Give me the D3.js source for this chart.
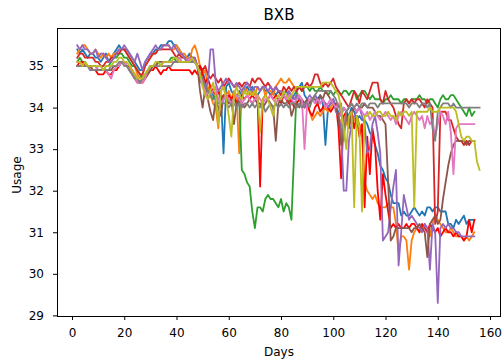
<!DOCTYPE html>
<html>
<head>
<meta charset="utf-8">
<script src="https://cdn.jsdelivr.net/npm/d3@7"></script>
<style>
  html, body { margin: 0; padding: 0; background: #fff; }
  svg { display: block; font-family: "DejaVu Sans", sans-serif; }
</style>
</head>
<body>
<svg id="chart" width="502" height="363"></svg>
<script>
// --- Data (one value per day, first day = 2) ---
const startDay = 2;
const xTicks = [0, 20, 40, 60, 80, 100, 120, 140, 160];
const yTicks = [29, 30, 31, 32, 33, 34, 35];

const blue = [
  35.4, 35.3, 35.4, 35.3, 35.2, 35.3, 35.3, 35.2, 35.2, 35.1,
  35.2, 35.3, 35.1, 35.2, 35.3, 35.4, 35.5, 35.4, 35.4, 35.4,
  35.3, 35.2, 35.1, 35.0, 34.9, 34.9, 35.1, 35.2, 35.3, 35.3,
  35.4, 35.4, 35.5, 35.5, 35.5, 35.6, 35.6, 35.5, 35.5, 35.4,
  35.3, 35.2, 35.2, 35.3, 35.2, 35.1, 35.0, 34.7, 34.9, 34.6,
  34.4, 34.5, 34.3, 34.2, 34.4, 34.3, 32.9, 34.5, 34.6, 34.4,
  34.3, 34.2, 34.4, 34.3, 34.4, 34.5, 34.4, 34.5, 34.4, 34.3,
  34.4, 34.5, 34.4, 34.4, 34.3, 34.4, 34.3, 34.4, 34.3, 34.3,
  34.4, 34.3, 34.2, 34.3, 34.4, 34.5, 34.6, 34.3, 34.2, 34.1,
  34.2, 34.3, 34.2, 34.3, 34.1, 33.1, 34.0, 34.1, 34.2, 34.0,
  33.9, 33.8, 34.0, 33.9, 33.8, 34.0, 33.9, 33.7, 33.8, 33.7,
  33.7, 33.6, 33.4, 33.3, 33.1, 32.9, 32.6, 32.5, 32.3, 32.2,
  31.9, 31.7, 31.7, 31.7, 31.4, 31.5, 31.4, 31.4, 31.5, 31.6,
  31.5, 31.4, 31.5, 31.4, 31.6, 31.6, 31.5, 31.6, 31.6, 31.5,
  31.5, 31.5, 31.2, 31.2, 31.1, 31.3, 31.2, 31.3, 31.4, 31.2,
  31.3, 31.3, 31.3
];

const orange = [
  35.3, 35.4, 35.5, 35.5, 35.4, 35.3, 35.3, 35.4, 35.3, 35.2,
  35.3, 35.2, 35.3, 35.2, 35.3, 35.3, 35.4, 35.4, 35.4, 35.3,
  35.2, 35.1, 35.0, 34.8, 34.7, 34.8, 35.0, 35.1, 35.2, 35.3,
  35.3, 35.4, 35.4, 35.5, 35.5, 35.5, 35.4, 35.4, 35.5, 35.4,
  35.3, 35.3, 35.2, 35.1, 35.4, 35.5, 35.3, 35.0, 34.8, 34.9,
  34.5, 34.3, 34.1, 34.0, 33.5, 34.4, 34.5, 34.3, 34.4, 34.2,
  34.4, 34.3, 32.9, 34.4, 34.5, 34.4, 34.3, 34.4, 34.3, 34.5,
  34.4, 34.5, 34.3, 34.4, 34.4, 34.3, 34.5, 34.6, 34.7, 34.6,
  34.6, 34.7, 34.6, 34.5, 34.4, 34.2, 34.1, 34.0, 34.1, 33.9,
  33.7, 33.8, 33.9, 33.8, 33.9, 34.0, 33.9, 34.0, 34.1, 34.0,
  33.8, 33.6, 33.5, 33.6, 33.7, 33.6, 33.7, 33.8, 33.6, 33.5,
  32.2, 32.0, 31.9, 31.8, 31.9, 31.7, 31.6, 31.6, 31.6, 31.7,
  31.6, 31.6, 31.2, 30.5, 30.9, 30.9, 30.8, 30.1, 30.8, 31.0,
  31.1, 31.0, 31.1, 31.2, 31.1, 30.9, 31.2, 31.4, 31.3, 31.2,
  31.1, 31.0, 31.0, 31.1, 31.0, 30.9, 30.9, 30.9, 30.8, 30.9,
  30.8, 30.9, 31.0
];

const green = [
  35.1, 35.2, 35.1, 35.1, 35.0, 35.0, 35.0, 35.0, 34.9, 34.9,
  34.9, 35.0, 35.0, 35.1, 35.2, 35.2, 35.3, 35.3, 35.2, 35.2,
  35.1, 35.0, 35.0, 34.9, 34.8, 34.7, 34.8, 34.9, 35.0, 35.0,
  35.0, 35.1, 35.0, 35.1, 35.1, 35.1, 35.2, 35.2, 35.1, 35.2,
  35.1, 35.1, 35.1, 35.2, 35.1, 35.1, 35.0, 34.8, 34.6, 34.5,
  34.4, 34.3, 34.2, 34.3, 34.2, 34.1, 34.2, 34.3, 34.2, 34.1,
  34.2, 34.1, 34.2, 32.5, 32.4, 32.2, 32.1, 31.5, 31.1, 31.6,
  31.6, 31.5, 31.8, 31.9, 31.8, 31.8, 31.7, 31.6, 31.8, 31.5,
  31.7, 31.6, 31.3, 32.9, 34.5, 34.5, 34.4, 34.5, 34.5, 34.4,
  34.5, 34.4, 34.4, 34.5, 34.4, 34.4, 34.3, 34.4, 34.3, 34.4,
  34.4, 34.3, 34.4, 34.4, 34.3, 34.4, 34.4, 34.2, 34.3, 34.4,
  34.4, 34.3, 34.2, 34.3, 34.2, 34.2, 34.2, 34.1, 34.2, 34.2,
  34.3, 34.2, 34.2, 34.2, 34.1, 34.2, 34.2, 34.1, 34.2, 34.2,
  34.2, 34.3, 34.2, 34.2, 34.1, 34.2, 34.2, 34.1, 34.0, 34.2,
  34.3, 34.2, 34.2, 34.3, 34.3, 34.2, 34.1, 34.0, 33.9, 33.8,
  34.0, 33.8, 33.9
];

const red = [
  35.2, 35.3, 35.3, 35.2, 35.2, 35.2, 35.2, 35.1, 35.1, 35.0,
  35.0, 35.1, 35.1, 35.2, 35.2, 35.3, 35.3, 35.4, 35.4, 35.3,
  35.2, 35.1, 35.0, 34.9, 34.8, 34.8, 35.0, 35.1, 35.2, 35.3,
  35.3, 35.4, 35.4, 35.4, 35.4, 35.4, 35.4, 35.3, 35.2, 35.3,
  35.2, 35.2, 35.1, 35.2, 35.2, 35.2, 35.0, 35.0, 34.9, 35.0,
  34.8, 34.7, 34.8, 34.7, 34.6, 34.7, 34.5, 34.6, 34.7, 34.6,
  34.5, 34.5, 34.6, 34.5, 34.6, 34.6, 34.5, 34.7, 34.6, 34.7,
  34.7, 34.6, 34.5, 34.6, 34.5, 34.4, 34.5, 34.4, 34.3, 34.5,
  34.4, 34.5, 34.4, 34.5, 34.4, 34.5, 34.4, 34.5, 34.6, 34.5,
  34.6, 34.8, 34.8, 34.6, 34.5, 34.6, 34.5, 34.6, 34.7, 34.5,
  34.4, 34.3, 34.2, 34.1, 34.0, 34.2, 34.4, 34.3, 34.1, 34.4,
  34.3, 34.2, 34.4, 34.6, 34.6, 34.6, 34.2, 34.1, 34.4, 34.2,
  34.1, 34.0, 33.8, 33.6, 33.5, 34.1, 34.2, 34.1, 34.2, 34.1,
  34.2, 34.2, 34.1, 34.0, 34.2, 34.1, 34.0, 31.2, 31.5, 33.9,
  33.9, 33.9, 33.7, 33.7, 33.5, 33.3, 33.2, 33.2, 33.1, 33.2,
  33.1, 33.2, 33.2
];

const purple = [
  35.5, 35.4, 35.5, 35.4, 35.4, 35.3, 35.3, 35.4, 35.2, 35.3,
  35.3, 35.2, 35.1, 35.1, 35.2, 35.3, 35.4, 35.4, 35.5, 35.4,
  35.3, 35.2, 35.1, 35.3, 35.1, 34.9, 35.1, 35.2, 35.3, 35.4,
  35.5, 35.4, 35.4, 35.5, 35.5, 35.5, 35.4, 35.5, 35.4, 35.3,
  35.3, 35.2, 35.1, 35.2, 35.1, 35.2, 35.0, 34.6, 34.7, 34.5,
  34.6, 35.4, 35.4, 34.6, 34.4, 34.5, 34.6, 34.7, 34.6, 34.6,
  34.5, 34.6, 34.5, 34.4, 34.5, 34.6, 34.5, 34.4, 34.5, 34.5,
  34.4, 34.5, 34.5, 34.4, 34.5, 34.4, 34.5, 34.4, 34.4, 34.3,
  34.2, 34.4, 34.3, 34.2, 34.3, 34.2, 34.1, 34.0, 34.2, 34.3,
  34.2, 34.3, 34.2, 34.1, 34.2, 34.1, 34.0, 34.1, 34.2, 33.9,
  33.8, 33.5, 32.0, 32.0, 33.2, 33.6, 33.8, 33.9, 34.0, 33.8,
  33.6, 32.9, 33.0, 33.6, 33.8, 33.4, 32.9, 30.8, 30.9, 31.0,
  31.6, 32.1, 32.5, 30.2, 31.0, 31.9, 31.6, 31.3, 31.4, 31.3,
  31.2, 31.1, 31.0, 31.2, 31.1, 30.1, 31.2, 31.0, 29.3, 31.1,
  31.2, 31.1, 31.2, 31.1, 31.1, 31.0, 31.0, 30.9, 30.9, 30.9,
  30.9, 30.9, 30.9
];

const brown = [
  35.0, 35.0, 35.0, 35.0, 35.0, 35.0, 34.9, 34.9, 34.9, 34.9,
  34.9, 34.9, 34.9, 34.9, 35.0, 35.0, 35.0, 35.1, 35.1, 35.0,
  34.9, 34.8, 34.7, 34.6, 34.6, 34.7, 34.7, 34.8, 34.9, 35.0,
  35.0, 35.1, 35.1, 35.1, 35.1, 35.1, 35.1, 35.1, 35.1, 35.1,
  35.1, 35.1, 35.1, 35.1, 35.1, 35.1, 35.0, 34.4, 34.0, 34.5,
  34.2, 33.9, 33.7, 34.2, 34.0, 33.8, 34.3, 34.2, 34.1, 34.2,
  33.6, 34.1, 34.2, 34.1, 34.0, 34.1, 34.2, 34.1, 34.2, 34.1,
  34.1, 34.0, 34.1, 34.2, 34.1, 34.0, 33.2, 34.1, 34.2, 34.1,
  34.1, 34.2, 33.8, 34.0, 34.1, 34.0, 34.2, 34.1, 34.2, 34.1,
  34.2, 34.2, 34.1, 34.3, 34.2, 34.4, 34.3, 34.2, 34.1, 34.0,
  33.8, 33.1, 33.4, 33.8, 33.5, 33.9, 34.0, 33.9, 34.0, 34.0,
  34.1, 34.0, 34.0, 34.0, 33.9, 33.8, 33.8, 33.7, 33.6, 32.2,
  30.8, 30.9, 31.1, 31.1, 31.1, 31.1, 31.1, 31.1, 31.0, 31.1,
  31.1, 31.2, 31.1, 31.0, 30.4, 31.2, 31.3, 31.4, 31.2, 31.3,
  31.8, 32.2, 32.6, 32.9, 33.1, 33.2, 33.2, 33.2, 33.2, 33.1,
  33.2, 33.2, 33.2
];

const pink = [
  35.1, 35.1, 35.0, 35.0, 35.0, 34.9, 34.9, 34.9, 35.0, 35.0,
  34.9, 34.9, 34.8, 34.7, 34.9, 35.0, 35.0, 35.1, 35.1, 35.0,
  34.9, 34.8, 34.7, 34.6, 34.6, 34.6, 34.7, 34.9, 35.0, 35.0,
  35.0, 35.0, 35.0, 35.1, 35.1, 35.1, 35.1, 35.1, 35.1, 35.2,
  35.1, 35.1, 35.1, 35.2, 35.1, 35.1, 35.0, 34.8, 34.6, 34.4,
  34.2, 34.3, 34.4, 34.5, 34.2, 34.1, 34.2, 34.3, 34.2, 34.1,
  34.2, 34.3, 34.2, 34.1, 34.2, 34.3, 34.2, 34.1, 34.2, 34.3,
  34.2, 34.1, 34.2, 34.2, 34.3, 34.2, 34.1, 34.2, 34.2, 34.3,
  34.2, 34.3, 34.2, 34.1, 34.2, 34.3, 34.2, 33.0, 34.1, 34.2,
  34.2, 34.1, 34.2, 34.1, 34.2, 34.0, 34.1, 34.2, 34.1, 34.0,
  34.1, 33.8, 34.0, 33.9, 34.0, 34.1, 34.0, 33.9, 34.0, 33.9,
  33.8, 33.9, 33.7, 33.8, 33.9, 33.8, 33.7, 33.8, 33.9, 33.8,
  33.7, 33.8, 33.6, 33.8, 33.9, 33.8, 33.7, 33.6, 33.8, 33.9,
  33.8, 33.7, 33.8, 33.5, 33.8, 33.6, 33.7, 33.3, 33.6, 33.9,
  33.8, 33.6, 33.9, 33.4, 32.4, 33.5, 33.6, 33.6, 33.6, 33.6,
  33.6, 33.6, 33.6
];

const gray = [
  35.0, 35.0, 35.0, 35.0, 35.0, 34.9, 34.9, 34.9, 34.9, 34.9,
  34.9, 34.9, 34.9, 35.0, 35.0, 35.0, 35.1, 35.1, 35.0, 35.0,
  34.9, 34.8, 34.7, 34.7, 34.6, 34.7, 34.8, 34.9, 35.0, 35.0,
  35.0, 35.0, 35.0, 35.0, 35.0, 35.0, 35.0, 35.1, 35.1, 35.1,
  35.1, 35.1, 35.1, 35.1, 35.1, 35.1, 35.0, 34.8, 34.7, 34.5,
  34.4, 34.3, 34.2, 34.2, 34.1, 34.1, 34.1, 34.1, 34.0, 34.1,
  34.1, 34.0, 34.1, 34.0, 34.1, 34.1, 34.0, 34.1, 34.0, 34.1,
  34.0, 34.1, 33.9, 34.0, 34.1, 34.0, 34.1, 34.0, 34.1, 34.0,
  34.1, 34.0, 34.1, 34.1, 34.0, 34.1, 34.0, 34.1, 34.1, 34.0,
  34.2, 34.3, 34.4, 34.4, 34.4, 34.4, 34.4, 34.4, 34.3, 34.2,
  34.0, 34.1, 33.2, 33.9, 34.0, 34.1, 34.0, 34.1, 34.0, 34.1,
  34.1, 34.0, 34.1, 34.1, 34.1, 34.0, 34.1, 34.1, 34.1, 34.1,
  34.1, 34.1, 34.1, 34.1, 34.1, 34.1, 34.1, 34.0, 34.1, 34.1,
  34.1, 34.0, 34.1, 34.1, 34.0, 34.1, 33.5, 33.2, 33.9, 34.0,
  34.1, 34.1, 34.1, 34.0, 34.1, 34.0, 34.0, 34.0, 34.0, 34.0,
  34.0, 34.0, 34.0, 34.0, 34.0
];

const olive = [
  35.1, 35.1, 35.0, 35.1, 35.0, 35.0, 35.0, 35.0, 35.0, 35.0,
  34.9, 35.0, 35.0, 35.0, 35.1, 35.1, 35.2, 35.2, 35.1, 35.1,
  35.0, 34.9, 34.8, 34.7, 34.7, 34.7, 34.8, 34.9, 35.0, 35.0,
  35.1, 35.1, 35.0, 35.1, 35.1, 35.1, 35.1, 35.2, 35.2, 35.1,
  35.1, 35.1, 35.1, 35.1, 35.2, 35.1, 35.0, 34.8, 34.5, 34.3,
  34.2, 34.4, 34.6, 34.3, 33.6, 34.4, 34.5, 34.2, 33.8, 33.3,
  34.3, 34.5, 34.3, 34.2, 34.4, 34.3, 34.4, 34.3, 34.4, 34.3,
  33.4, 34.2, 34.3, 34.2, 34.0, 33.8, 34.2, 34.3, 34.2, 34.4,
  34.3, 34.2, 34.3, 34.4, 34.5, 34.5, 34.5, 34.5, 34.5, 34.5,
  34.5, 34.5, 34.5, 34.5, 34.6, 34.6, 34.6, 34.6, 34.5, 34.4,
  34.3, 34.0, 33.5, 33.0, 33.8, 33.9, 31.6, 33.8, 33.5, 31.5,
  33.8, 33.8, 33.9, 33.8, 33.8, 33.9, 33.9, 33.8, 33.8, 33.9,
  33.8, 33.8, 33.7, 33.9, 33.8, 33.9, 33.9, 33.8, 33.9, 31.6,
  33.9, 33.9, 33.9, 33.9, 33.9, 34.0, 33.9, 33.9, 33.9, 34.0,
  34.0, 34.0, 34.0, 34.0, 34.0, 33.9, 33.6, 33.3, 33.2, 33.3,
  33.3, 33.2, 33.2, 32.7, 32.5
];

const brightRed = [
  35.0, 35.1, 35.1, 35.0, 35.0, 35.0, 34.9, 34.9, 34.8, 34.8,
  34.8, 34.9, 34.8, 34.8, 34.9, 34.9, 35.0, 35.1, 35.1, 35.0,
  35.0, 34.9, 34.8, 34.7, 34.6, 34.6, 34.7, 34.8, 34.9, 34.9,
  35.0, 34.9, 34.8, 34.9, 34.9, 35.0, 34.9, 34.9, 34.9, 34.9,
  34.9, 34.9, 34.9, 34.9, 34.8, 34.9, 34.8, 35.0, 34.8, 34.6,
  34.7, 34.5, 34.4, 34.3, 34.4, 34.2, 34.3, 34.2, 34.3, 34.2,
  34.3, 34.1, 34.2, 34.3, 34.2, 34.3, 34.2, 34.3, 34.2, 34.3,
  32.1, 34.2, 34.3, 34.2, 34.3, 34.2, 34.3, 34.2, 34.1, 34.3,
  34.2, 34.1, 34.2, 34.0, 34.1, 34.2, 34.1, 34.0, 34.1, 33.9,
  33.8, 34.0, 34.1, 33.9, 34.0, 34.1, 34.0, 33.9, 34.0, 34.1,
  33.5, 32.3, 33.8, 33.9, 33.6, 33.9, 33.5, 33.8, 33.3, 33.6,
  31.6, 33.3, 32.4, 33.5, 33.1, 32.0, 31.3, 32.4, 31.9, 31.5,
  31.1, 31.2, 31.1, 31.2, 31.1, 31.1, 31.2, 31.1, 31.2, 31.2,
  31.1, 31.0, 31.2, 31.1, 31.0, 31.2, 31.1, 31.0, 31.1, 30.9,
  31.0, 31.1, 31.0, 31.0, 30.9, 31.0, 30.9, 30.9, 30.8, 30.9,
  31.3, 31.0, 31.3
];

const seriesList = [
  { name: 'blue', color: '#1f77b4', values: blue },
  { name: 'orange', color: '#ff7f0e', values: orange },
  { name: 'green', color: '#2ca02c', values: green },
  { name: 'red', color: '#d62728', values: red },
  { name: 'brightRed', color: '#ff0000', values: brightRed },
  { name: 'purple', color: '#9467bd', values: purple },
  { name: 'brown', color: '#8c564b', values: brown },
  { name: 'pink', color: '#e377c2', values: pink },
  { name: 'gray', color: '#7f7f7f', values: gray },
  { name: 'olive', color: '#bcbd22', values: olive }
];

// --- Layout ---
const plot = { left: 57, top: 28, right: 501, bottom: 316 };

const svg = d3.select('#chart');

const x = d3.scaleLinear().domain([-5.74, 164.2]).range([plot.left, plot.right]);
const y = d3.scaleLinear().domain([28.985, 35.915]).range([plot.bottom, plot.top]);

const line = d3.line()
  .x((d, i) => x(startDay + i))
  .y(d => y(d));

// clip lines to the axes box
svg.append('clipPath').attr('id', 'clip')
  .append('rect')
  .attr('x', plot.left).attr('y', plot.top)
  .attr('width', plot.right - plot.left).attr('height', plot.bottom - plot.top);

svg.append('g').attr('clip-path', 'url(#clip)')
  .selectAll('path')
  .data(seriesList)
  .enter().append('path')
  .attr('d', d => line(d.values))
  .attr('fill', 'none')
  .attr('stroke', d => d.color)
  .attr('stroke-width', 1.8)
  .attr('stroke-linejoin', 'round')
  .attr('stroke-linecap', 'square');

// --- Axes ---
const xAxis = d3.axisBottom(x).tickValues(xTicks).tickFormat(d3.format('d'))
  .tickSize(4).tickSizeOuter(0).tickPadding(8);
const yAxis = d3.axisLeft(y).tickValues(yTicks).tickFormat(d3.format('d'))
  .tickSize(4).tickSizeOuter(0).tickPadding(9);

const gx = svg.append('g').attr('transform', `translate(0,${plot.bottom})`).call(xAxis);
const gy = svg.append('g').attr('transform', `translate(${plot.left},0)`).call(yAxis);

[gx, gy].forEach(g => {
  g.select('.domain').remove();
  g.selectAll('line').attr('stroke', '#000').attr('stroke-width', 1);
  g.selectAll('text')
    .attr('fill', '#000')
    .style('font-family', '"DejaVu Sans", sans-serif')
    .style('font-size', '12px');
});

// frame
svg.append('rect')
  .attr('x', plot.left + 0.5).attr('y', plot.top + 0.5)
  .attr('width', plot.right - plot.left - 1).attr('height', plot.bottom - plot.top)
  .attr('fill', 'none')
  .attr('stroke', '#000')
  .attr('stroke-width', 1);

// --- Labels ---
const midX = (plot.left + plot.right) / 2;

svg.append('text')
  .attr('x', midX).attr('y', 20)
  .attr('text-anchor', 'middle')
  .style('font-size', '15px')
  .text('BXB');

svg.append('text')
  .attr('x', midX).attr('y', 356)
  .attr('text-anchor', 'middle')
  .style('font-size', '12px')
  .text('Days');

svg.append('text')
  .attr('transform', `translate(21,${(plot.top + plot.bottom) / 2 + 3}) rotate(-90)`)
  .attr('text-anchor', 'middle')
  .style('font-size', '12px')
  .text('Usage');
</script>
</body>
</html>
